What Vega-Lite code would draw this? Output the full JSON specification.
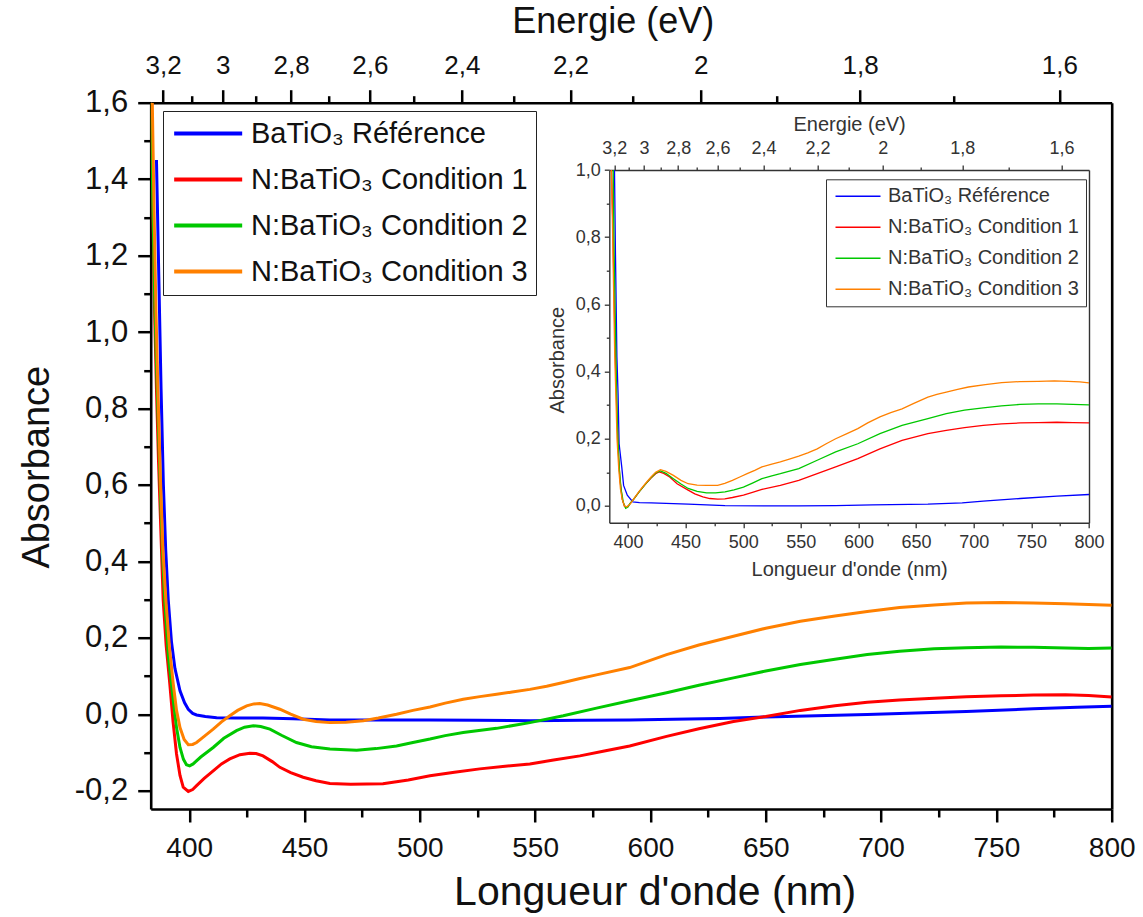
{
  "$schema": "https://vega.github.io/schema/vega-lite/v6.json",
  "autosize": {"type": "none"},
  "width": 961,
  "height": 706.3,
  "padding": {"left": 150.7, "top": 102.7, "right": 31.3, "bottom": 108},
  "background": "white",
  "config": {
    "font": "Liberation Sans",
    "view": {"stroke": null},
    "axis": {"grid": false, "labelFlush": false, "labelOverlap": false, "labelBound": false, "titleFontWeight": "normal", "zindex": 1}
  },
  "datasets": {
    "main": [
      {"series": "BaTiO₃ Référence", "wl": 385.8, "abs": 1.45},
      {"series": "BaTiO₃ Référence", "wl": 386.8, "abs": 1.15},
      {"series": "BaTiO₃ Référence", "wl": 387.8, "abs": 0.85},
      {"series": "BaTiO₃ Référence", "wl": 388.8, "abs": 0.6},
      {"series": "BaTiO₃ Référence", "wl": 389.8, "abs": 0.43},
      {"series": "BaTiO₃ Référence", "wl": 390.9, "abs": 0.3},
      {"series": "BaTiO₃ Référence", "wl": 392.3, "abs": 0.19},
      {"series": "BaTiO₃ Référence", "wl": 393.8, "abs": 0.12},
      {"series": "BaTiO₃ Référence", "wl": 396, "abs": 0.061},
      {"series": "BaTiO₃ Référence", "wl": 398, "abs": 0.03},
      {"series": "BaTiO₃ Référence", "wl": 399.6, "abs": 0.013},
      {"series": "BaTiO₃ Référence", "wl": 401.5, "abs": 0.002},
      {"series": "BaTiO₃ Référence", "wl": 403.2, "abs": -0.002},
      {"series": "BaTiO₃ Référence", "wl": 407, "abs": -0.006},
      {"series": "BaTiO₃ Référence", "wl": 411.9, "abs": -0.009},
      {"series": "BaTiO₃ Référence", "wl": 420, "abs": -0.01},
      {"series": "BaTiO₃ Référence", "wl": 432, "abs": -0.01},
      {"series": "BaTiO₃ Référence", "wl": 445, "abs": -0.012},
      {"series": "BaTiO₃ Référence", "wl": 461, "abs": -0.015},
      {"series": "BaTiO₃ Référence", "wl": 480, "abs": -0.015},
      {"series": "BaTiO₃ Référence", "wl": 504, "abs": -0.015},
      {"series": "BaTiO₃ Référence", "wl": 525, "abs": -0.016},
      {"series": "BaTiO₃ Référence", "wl": 548, "abs": -0.017},
      {"series": "BaTiO₃ Référence", "wl": 570, "abs": -0.016},
      {"series": "BaTiO₃ Référence", "wl": 591, "abs": -0.015},
      {"series": "BaTiO₃ Référence", "wl": 610, "abs": -0.013},
      {"series": "BaTiO₃ Référence", "wl": 630, "abs": -0.011},
      {"series": "BaTiO₃ Référence", "wl": 650, "abs": -0.007},
      {"series": "BaTiO₃ Référence", "wl": 672, "abs": -0.004},
      {"series": "BaTiO₃ Référence", "wl": 694, "abs": -0.001},
      {"series": "BaTiO₃ Référence", "wl": 715, "abs": 0.003},
      {"series": "BaTiO₃ Référence", "wl": 737, "abs": 0.007},
      {"series": "BaTiO₃ Référence", "wl": 766, "abs": 0.014},
      {"series": "BaTiO₃ Référence", "wl": 785, "abs": 0.018},
      {"series": "BaTiO₃ Référence", "wl": 800, "abs": 0.021},

      {"series": "N:BaTiO₃ Condition 1", "wl": 383.6, "abs": 1.6},
      {"series": "N:BaTiO₃ Condition 1", "wl": 384.3, "abs": 1.3},
      {"series": "N:BaTiO₃ Condition 1", "wl": 385, "abs": 1.05},
      {"series": "N:BaTiO₃ Condition 1", "wl": 385.8, "abs": 0.85},
      {"series": "N:BaTiO₃ Condition 1", "wl": 386.7, "abs": 0.66},
      {"series": "N:BaTiO₃ Condition 1", "wl": 387.7, "abs": 0.48},
      {"series": "N:BaTiO₃ Condition 1", "wl": 388.7, "abs": 0.3},
      {"series": "N:BaTiO₃ Condition 1", "wl": 390, "abs": 0.18},
      {"series": "N:BaTiO₃ Condition 1", "wl": 391.6, "abs": 0.078},
      {"series": "N:BaTiO₃ Condition 1", "wl": 393, "abs": -0.02},
      {"series": "N:BaTiO₃ Condition 1", "wl": 394.5, "abs": -0.104},
      {"series": "N:BaTiO₃ Condition 1", "wl": 396, "abs": -0.16},
      {"series": "N:BaTiO₃ Condition 1", "wl": 397.4, "abs": -0.191},
      {"series": "N:BaTiO₃ Condition 1", "wl": 399.6, "abs": -0.202},
      {"series": "N:BaTiO₃ Condition 1", "wl": 401.5, "abs": -0.197},
      {"series": "N:BaTiO₃ Condition 1", "wl": 403.2, "abs": -0.187},
      {"series": "N:BaTiO₃ Condition 1", "wl": 406.5, "abs": -0.168},
      {"series": "N:BaTiO₃ Condition 1", "wl": 410.4, "abs": -0.148},
      {"series": "N:BaTiO₃ Condition 1", "wl": 414, "abs": -0.13},
      {"series": "N:BaTiO₃ Condition 1", "wl": 417.6, "abs": -0.117},
      {"series": "N:BaTiO₃ Condition 1", "wl": 422, "abs": -0.106},
      {"series": "N:BaTiO₃ Condition 1", "wl": 426.3, "abs": -0.102},
      {"series": "N:BaTiO₃ Condition 1", "wl": 429, "abs": -0.103},
      {"series": "N:BaTiO₃ Condition 1", "wl": 432, "abs": -0.109},
      {"series": "N:BaTiO₃ Condition 1", "wl": 436, "abs": -0.124},
      {"series": "N:BaTiO₃ Condition 1", "wl": 439.3, "abs": -0.139},
      {"series": "N:BaTiO₃ Condition 1", "wl": 444, "abs": -0.153},
      {"series": "N:BaTiO₃ Condition 1", "wl": 449.4, "abs": -0.165},
      {"series": "N:BaTiO₃ Condition 1", "wl": 455, "abs": -0.174},
      {"series": "N:BaTiO₃ Condition 1", "wl": 461, "abs": -0.181},
      {"series": "N:BaTiO₃ Condition 1", "wl": 470, "abs": -0.183},
      {"series": "N:BaTiO₃ Condition 1", "wl": 484, "abs": -0.182},
      {"series": "N:BaTiO₃ Condition 1", "wl": 495, "abs": -0.172},
      {"series": "N:BaTiO₃ Condition 1", "wl": 504.4, "abs": -0.161},
      {"series": "N:BaTiO₃ Condition 1", "wl": 515, "abs": -0.152},
      {"series": "N:BaTiO₃ Condition 1", "wl": 526, "abs": -0.143},
      {"series": "N:BaTiO₃ Condition 1", "wl": 537, "abs": -0.136},
      {"series": "N:BaTiO₃ Condition 1", "wl": 547.7, "abs": -0.13},
      {"series": "N:BaTiO₃ Condition 1", "wl": 558, "abs": -0.12},
      {"series": "N:BaTiO₃ Condition 1", "wl": 569.4, "abs": -0.109},
      {"series": "N:BaTiO₃ Condition 1", "wl": 580, "abs": -0.096},
      {"series": "N:BaTiO₃ Condition 1", "wl": 591, "abs": -0.083},
      {"series": "N:BaTiO₃ Condition 1", "wl": 607, "abs": -0.058},
      {"series": "N:BaTiO₃ Condition 1", "wl": 621, "abs": -0.038},
      {"series": "N:BaTiO₃ Condition 1", "wl": 636, "abs": -0.019},
      {"series": "N:BaTiO₃ Condition 1", "wl": 650, "abs": -0.006},
      {"series": "N:BaTiO₃ Condition 1", "wl": 665, "abs": 0.01},
      {"series": "N:BaTiO₃ Condition 1", "wl": 680, "abs": 0.022},
      {"series": "N:BaTiO₃ Condition 1", "wl": 694, "abs": 0.031},
      {"series": "N:BaTiO₃ Condition 1", "wl": 708, "abs": 0.037},
      {"series": "N:BaTiO₃ Condition 1", "wl": 723, "abs": 0.042},
      {"series": "N:BaTiO₃ Condition 1", "wl": 737, "abs": 0.046},
      {"series": "N:BaTiO₃ Condition 1", "wl": 752, "abs": 0.048},
      {"series": "N:BaTiO₃ Condition 1", "wl": 766, "abs": 0.05},
      {"series": "N:BaTiO₃ Condition 1", "wl": 780, "abs": 0.051},
      {"series": "N:BaTiO₃ Condition 1", "wl": 790, "abs": 0.049},
      {"series": "N:BaTiO₃ Condition 1", "wl": 800, "abs": 0.045},

      {"series": "N:BaTiO₃ Condition 2", "wl": 383.5, "abs": 1.6},
      {"series": "N:BaTiO₃ Condition 2", "wl": 384.2, "abs": 1.35},
      {"series": "N:BaTiO₃ Condition 2", "wl": 385, "abs": 1.1},
      {"series": "N:BaTiO₃ Condition 2", "wl": 385.8, "abs": 0.92},
      {"series": "N:BaTiO₃ Condition 2", "wl": 386.8, "abs": 0.72},
      {"series": "N:BaTiO₃ Condition 2", "wl": 387.8, "abs": 0.53},
      {"series": "N:BaTiO₃ Condition 2", "wl": 388.6, "abs": 0.4},
      {"series": "N:BaTiO₃ Condition 2", "wl": 389.4, "abs": 0.296},
      {"series": "N:BaTiO₃ Condition 2", "wl": 391, "abs": 0.15},
      {"series": "N:BaTiO₃ Condition 2", "wl": 393.1, "abs": 0.035},
      {"series": "N:BaTiO₃ Condition 2", "wl": 394.5, "abs": -0.035},
      {"series": "N:BaTiO₃ Condition 2", "wl": 396, "abs": -0.087},
      {"series": "N:BaTiO₃ Condition 2", "wl": 397.5, "abs": -0.118},
      {"series": "N:BaTiO₃ Condition 2", "wl": 398.8, "abs": -0.132},
      {"series": "N:BaTiO₃ Condition 2", "wl": 400.2, "abs": -0.135},
      {"series": "N:BaTiO₃ Condition 2", "wl": 401.7, "abs": -0.13},
      {"series": "N:BaTiO₃ Condition 2", "wl": 405, "abs": -0.112},
      {"series": "N:BaTiO₃ Condition 2", "wl": 410.4, "abs": -0.087},
      {"series": "N:BaTiO₃ Condition 2", "wl": 415, "abs": -0.063},
      {"series": "N:BaTiO₃ Condition 2", "wl": 420.5, "abs": -0.043},
      {"series": "N:BaTiO₃ Condition 2", "wl": 424, "abs": -0.034},
      {"series": "N:BaTiO₃ Condition 2", "wl": 427.8, "abs": -0.03},
      {"series": "N:BaTiO₃ Condition 2", "wl": 431, "abs": -0.032},
      {"series": "N:BaTiO₃ Condition 2", "wl": 435, "abs": -0.039},
      {"series": "N:BaTiO₃ Condition 2", "wl": 440, "abs": -0.055},
      {"series": "N:BaTiO₃ Condition 2", "wl": 446.5, "abs": -0.074},
      {"series": "N:BaTiO₃ Condition 2", "wl": 453, "abs": -0.085},
      {"series": "N:BaTiO₃ Condition 2", "wl": 461, "abs": -0.091},
      {"series": "N:BaTiO₃ Condition 2", "wl": 472.6, "abs": -0.094},
      {"series": "N:BaTiO₃ Condition 2", "wl": 481, "abs": -0.09},
      {"series": "N:BaTiO₃ Condition 2", "wl": 489.9, "abs": -0.083},
      {"series": "N:BaTiO₃ Condition 2", "wl": 497, "abs": -0.074},
      {"series": "N:BaTiO₃ Condition 2", "wl": 504.4, "abs": -0.065},
      {"series": "N:BaTiO₃ Condition 2", "wl": 511, "abs": -0.056},
      {"series": "N:BaTiO₃ Condition 2", "wl": 518.8, "abs": -0.048},
      {"series": "N:BaTiO₃ Condition 2", "wl": 533.3, "abs": -0.037},
      {"series": "N:BaTiO₃ Condition 2", "wl": 547.7, "abs": -0.022},
      {"series": "N:BaTiO₃ Condition 2", "wl": 562.2, "abs": -0.004},
      {"series": "N:BaTiO₃ Condition 2", "wl": 576.6, "abs": 0.016},
      {"series": "N:BaTiO₃ Condition 2", "wl": 591, "abs": 0.035},
      {"series": "N:BaTiO₃ Condition 2", "wl": 607, "abs": 0.056},
      {"series": "N:BaTiO₃ Condition 2", "wl": 621, "abs": 0.076},
      {"series": "N:BaTiO₃ Condition 2", "wl": 636, "abs": 0.095},
      {"series": "N:BaTiO₃ Condition 2", "wl": 650, "abs": 0.113},
      {"series": "N:BaTiO₃ Condition 2", "wl": 665, "abs": 0.13},
      {"series": "N:BaTiO₃ Condition 2", "wl": 680, "abs": 0.144},
      {"series": "N:BaTiO₃ Condition 2", "wl": 694, "abs": 0.156},
      {"series": "N:BaTiO₃ Condition 2", "wl": 708, "abs": 0.165},
      {"series": "N:BaTiO₃ Condition 2", "wl": 723, "abs": 0.171},
      {"series": "N:BaTiO₃ Condition 2", "wl": 737, "abs": 0.174},
      {"series": "N:BaTiO₃ Condition 2", "wl": 752, "abs": 0.176},
      {"series": "N:BaTiO₃ Condition 2", "wl": 766, "abs": 0.175},
      {"series": "N:BaTiO₃ Condition 2", "wl": 780, "abs": 0.173},
      {"series": "N:BaTiO₃ Condition 2", "wl": 790, "abs": 0.172},
      {"series": "N:BaTiO₃ Condition 2", "wl": 800, "abs": 0.173},

      {"series": "N:BaTiO₃ Condition 3", "wl": 384, "abs": 1.6},
      {"series": "N:BaTiO₃ Condition 3", "wl": 384.8, "abs": 1.3},
      {"series": "N:BaTiO₃ Condition 3", "wl": 385.6, "abs": 1.05},
      {"series": "N:BaTiO₃ Condition 3", "wl": 386.5, "abs": 0.83},
      {"series": "N:BaTiO₃ Condition 3", "wl": 387.5, "abs": 0.62},
      {"series": "N:BaTiO₃ Condition 3", "wl": 388.6, "abs": 0.43},
      {"series": "N:BaTiO₃ Condition 3", "wl": 389.9, "abs": 0.296},
      {"series": "N:BaTiO₃ Condition 3", "wl": 391.5, "abs": 0.17},
      {"series": "N:BaTiO₃ Condition 3", "wl": 393.1, "abs": 0.078},
      {"series": "N:BaTiO₃ Condition 3", "wl": 394.5, "abs": 0.01},
      {"series": "N:BaTiO₃ Condition 3", "wl": 396, "abs": -0.035},
      {"series": "N:BaTiO₃ Condition 3", "wl": 397.8, "abs": -0.066},
      {"series": "N:BaTiO₃ Condition 3", "wl": 399.6, "abs": -0.08},
      {"series": "N:BaTiO₃ Condition 3", "wl": 401.5, "abs": -0.079},
      {"series": "N:BaTiO₃ Condition 3", "wl": 403.2, "abs": -0.074},
      {"series": "N:BaTiO₃ Condition 3", "wl": 406.5, "abs": -0.058},
      {"series": "N:BaTiO₃ Condition 3", "wl": 410.4, "abs": -0.039},
      {"series": "N:BaTiO₃ Condition 3", "wl": 414, "abs": -0.02},
      {"series": "N:BaTiO₃ Condition 3", "wl": 417.6, "abs": -0.004},
      {"series": "N:BaTiO₃ Condition 3", "wl": 421, "abs": 0.01},
      {"series": "N:BaTiO₃ Condition 3", "wl": 424.9, "abs": 0.022},
      {"series": "N:BaTiO₃ Condition 3", "wl": 428, "abs": 0.027},
      {"series": "N:BaTiO₃ Condition 3", "wl": 430.6, "abs": 0.028},
      {"series": "N:BaTiO₃ Condition 3", "wl": 434, "abs": 0.024},
      {"series": "N:BaTiO₃ Condition 3", "wl": 439.3, "abs": 0.013},
      {"series": "N:BaTiO₃ Condition 3", "wl": 444, "abs": 0.0},
      {"series": "N:BaTiO₃ Condition 3", "wl": 449.4, "abs": -0.013},
      {"series": "N:BaTiO₃ Condition 3", "wl": 455, "abs": -0.019},
      {"series": "N:BaTiO₃ Condition 3", "wl": 461, "abs": -0.022},
      {"series": "N:BaTiO₃ Condition 3", "wl": 468, "abs": -0.021},
      {"series": "N:BaTiO₃ Condition 3", "wl": 475.5, "abs": -0.017},
      {"series": "N:BaTiO₃ Condition 3", "wl": 482, "abs": -0.01},
      {"series": "N:BaTiO₃ Condition 3", "wl": 489.9, "abs": 0.0},
      {"series": "N:BaTiO₃ Condition 3", "wl": 497, "abs": 0.01},
      {"series": "N:BaTiO₃ Condition 3", "wl": 504.4, "abs": 0.019},
      {"series": "N:BaTiO₃ Condition 3", "wl": 511, "abs": 0.029},
      {"series": "N:BaTiO₃ Condition 3", "wl": 518.8, "abs": 0.039},
      {"series": "N:BaTiO₃ Condition 3", "wl": 526, "abs": 0.046},
      {"series": "N:BaTiO₃ Condition 3", "wl": 533.3, "abs": 0.052},
      {"series": "N:BaTiO₃ Condition 3", "wl": 540, "abs": 0.058},
      {"series": "N:BaTiO₃ Condition 3", "wl": 547.7, "abs": 0.065},
      {"series": "N:BaTiO₃ Condition 3", "wl": 555, "abs": 0.073},
      {"series": "N:BaTiO₃ Condition 3", "wl": 562.2, "abs": 0.083},
      {"series": "N:BaTiO₃ Condition 3", "wl": 569, "abs": 0.093},
      {"series": "N:BaTiO₃ Condition 3", "wl": 576.6, "abs": 0.103},
      {"series": "N:BaTiO₃ Condition 3", "wl": 591, "abs": 0.122},
      {"series": "N:BaTiO₃ Condition 3", "wl": 607, "abs": 0.156},
      {"series": "N:BaTiO₃ Condition 3", "wl": 621, "abs": 0.181},
      {"series": "N:BaTiO₃ Condition 3", "wl": 636, "abs": 0.204},
      {"series": "N:BaTiO₃ Condition 3", "wl": 650, "abs": 0.225},
      {"series": "N:BaTiO₃ Condition 3", "wl": 665, "abs": 0.243},
      {"series": "N:BaTiO₃ Condition 3", "wl": 680, "abs": 0.257},
      {"series": "N:BaTiO₃ Condition 3", "wl": 694, "abs": 0.269},
      {"series": "N:BaTiO₃ Condition 3", "wl": 708, "abs": 0.279},
      {"series": "N:BaTiO₃ Condition 3", "wl": 723, "abs": 0.286},
      {"series": "N:BaTiO₃ Condition 3", "wl": 737, "abs": 0.291},
      {"series": "N:BaTiO₃ Condition 3", "wl": 752, "abs": 0.292},
      {"series": "N:BaTiO₃ Condition 3", "wl": 766, "abs": 0.291},
      {"series": "N:BaTiO₃ Condition 3", "wl": 780, "abs": 0.289},
      {"series": "N:BaTiO₃ Condition 3", "wl": 790, "abs": 0.287},
      {"series": "N:BaTiO₃ Condition 3", "wl": 800, "abs": 0.285}
    ],
    "inset": [
      {"series": "BaTiO₃ Référence", "wl": 388.3, "abs": 1.0},
      {"series": "BaTiO₃ Référence", "wl": 389.1, "abs": 0.76},
      {"series": "BaTiO₃ Référence", "wl": 390.4, "abs": 0.443},
      {"series": "BaTiO₃ Référence", "wl": 391.4, "abs": 0.334},
      {"series": "BaTiO₃ Référence", "wl": 392.3, "abs": 0.185},
      {"series": "BaTiO₃ Référence", "wl": 394.6, "abs": 0.116},
      {"series": "BaTiO₃ Référence", "wl": 396.2, "abs": 0.061},
      {"series": "BaTiO₃ Référence", "wl": 399.4, "abs": 0.032},
      {"series": "BaTiO₃ Référence", "wl": 404.2, "abs": 0.012},
      {"series": "BaTiO₃ Référence", "wl": 410, "abs": 0.01},
      {"series": "BaTiO₃ Référence", "wl": 420.2, "abs": 0.009},
      {"series": "BaTiO₃ Référence", "wl": 452.2, "abs": 0.005},
      {"series": "BaTiO₃ Référence", "wl": 484.2, "abs": 0.001},
      {"series": "BaTiO₃ Référence", "wl": 520, "abs": 0.0},
      {"series": "BaTiO₃ Référence", "wl": 548.2, "abs": 0.0},
      {"series": "BaTiO₃ Référence", "wl": 580, "abs": 0.001},
      {"series": "BaTiO₃ Référence", "wl": 612.2, "abs": 0.003},
      {"series": "BaTiO₃ Référence", "wl": 660.2, "abs": 0.005},
      {"series": "BaTiO₃ Référence", "wl": 690, "abs": 0.009},
      {"series": "BaTiO₃ Référence", "wl": 708.2, "abs": 0.014},
      {"series": "BaTiO₃ Référence", "wl": 740.2, "abs": 0.022},
      {"series": "BaTiO₃ Référence", "wl": 772.2, "abs": 0.029},
      {"series": "BaTiO₃ Référence", "wl": 800, "abs": 0.034},

      {"series": "N:BaTiO₃ Condition 1", "wl": 385.8, "abs": 1.0},
      {"series": "N:BaTiO₃ Condition 1", "wl": 386.8, "abs": 0.85},
      {"series": "N:BaTiO₃ Condition 1", "wl": 388, "abs": 0.62},
      {"series": "N:BaTiO₃ Condition 1", "wl": 389.2, "abs": 0.42},
      {"series": "N:BaTiO₃ Condition 1", "wl": 390.3, "abs": 0.28},
      {"series": "N:BaTiO₃ Condition 1", "wl": 391.5, "abs": 0.17},
      {"series": "N:BaTiO₃ Condition 1", "wl": 393, "abs": 0.08},
      {"series": "N:BaTiO₃ Condition 1", "wl": 395, "abs": 0.02},
      {"series": "N:BaTiO₃ Condition 1", "wl": 397, "abs": -0.002},
      {"series": "N:BaTiO₃ Condition 1", "wl": 399, "abs": -0.004},
      {"series": "N:BaTiO₃ Condition 1", "wl": 401, "abs": 0.003},
      {"series": "N:BaTiO₃ Condition 1", "wl": 405, "abs": 0.02},
      {"series": "N:BaTiO₃ Condition 1", "wl": 410, "abs": 0.043},
      {"series": "N:BaTiO₃ Condition 1", "wl": 415, "abs": 0.064},
      {"series": "N:BaTiO₃ Condition 1", "wl": 420, "abs": 0.083},
      {"series": "N:BaTiO₃ Condition 1", "wl": 424, "abs": 0.096},
      {"series": "N:BaTiO₃ Condition 1", "wl": 427, "abs": 0.101},
      {"series": "N:BaTiO₃ Condition 1", "wl": 431, "abs": 0.097},
      {"series": "N:BaTiO₃ Condition 1", "wl": 436.2, "abs": 0.086},
      {"series": "N:BaTiO₃ Condition 1", "wl": 442.6, "abs": 0.066},
      {"series": "N:BaTiO₃ Condition 1", "wl": 452.2, "abs": 0.047},
      {"series": "N:BaTiO₃ Condition 1", "wl": 458, "abs": 0.036},
      {"series": "N:BaTiO₃ Condition 1", "wl": 465, "abs": 0.027},
      {"series": "N:BaTiO₃ Condition 1", "wl": 471, "abs": 0.022},
      {"series": "N:BaTiO₃ Condition 1", "wl": 477.8, "abs": 0.02},
      {"series": "N:BaTiO₃ Condition 1", "wl": 484, "abs": 0.021},
      {"series": "N:BaTiO₃ Condition 1", "wl": 490.6, "abs": 0.025},
      {"series": "N:BaTiO₃ Condition 1", "wl": 500.2, "abs": 0.032},
      {"series": "N:BaTiO₃ Condition 1", "wl": 508, "abs": 0.04},
      {"series": "N:BaTiO₃ Condition 1", "wl": 516.2, "abs": 0.049},
      {"series": "N:BaTiO₃ Condition 1", "wl": 532.2, "abs": 0.061},
      {"series": "N:BaTiO₃ Condition 1", "wl": 548.2, "abs": 0.076},
      {"series": "N:BaTiO₃ Condition 1", "wl": 564.2, "abs": 0.096},
      {"series": "N:BaTiO₃ Condition 1", "wl": 580.2, "abs": 0.116},
      {"series": "N:BaTiO₃ Condition 1", "wl": 599.4, "abs": 0.141},
      {"series": "N:BaTiO₃ Condition 1", "wl": 618.6, "abs": 0.17},
      {"series": "N:BaTiO₃ Condition 1", "wl": 637.8, "abs": 0.195},
      {"series": "N:BaTiO₃ Condition 1", "wl": 660.2, "abs": 0.215},
      {"series": "N:BaTiO₃ Condition 1", "wl": 676.2, "abs": 0.225},
      {"series": "N:BaTiO₃ Condition 1", "wl": 692, "abs": 0.233},
      {"series": "N:BaTiO₃ Condition 1", "wl": 708.2, "abs": 0.24},
      {"series": "N:BaTiO₃ Condition 1", "wl": 724, "abs": 0.244},
      {"series": "N:BaTiO₃ Condition 1", "wl": 740.2, "abs": 0.247},
      {"series": "N:BaTiO₃ Condition 1", "wl": 756, "abs": 0.248},
      {"series": "N:BaTiO₃ Condition 1", "wl": 772.2, "abs": 0.249},
      {"series": "N:BaTiO₃ Condition 1", "wl": 786, "abs": 0.248},
      {"series": "N:BaTiO₃ Condition 1", "wl": 800, "abs": 0.247},

      {"series": "N:BaTiO₃ Condition 2", "wl": 387.2, "abs": 1.0},
      {"series": "N:BaTiO₃ Condition 2", "wl": 387.8, "abs": 0.8},
      {"series": "N:BaTiO₃ Condition 2", "wl": 388.5, "abs": 0.65},
      {"series": "N:BaTiO₃ Condition 2", "wl": 389.3, "abs": 0.5},
      {"series": "N:BaTiO₃ Condition 2", "wl": 390, "abs": 0.36},
      {"series": "N:BaTiO₃ Condition 2", "wl": 391, "abs": 0.22},
      {"series": "N:BaTiO₃ Condition 2", "wl": 392.5, "abs": 0.11},
      {"series": "N:BaTiO₃ Condition 2", "wl": 394, "abs": 0.05},
      {"series": "N:BaTiO₃ Condition 2", "wl": 396, "abs": 0.01},
      {"series": "N:BaTiO₃ Condition 2", "wl": 398, "abs": -0.007},
      {"series": "N:BaTiO₃ Condition 2", "wl": 400, "abs": -0.003},
      {"series": "N:BaTiO₃ Condition 2", "wl": 402, "abs": 0.008},
      {"series": "N:BaTiO₃ Condition 2", "wl": 405, "abs": 0.02},
      {"series": "N:BaTiO₃ Condition 2", "wl": 410, "abs": 0.043},
      {"series": "N:BaTiO₃ Condition 2", "wl": 415, "abs": 0.064},
      {"series": "N:BaTiO₃ Condition 2", "wl": 420, "abs": 0.084},
      {"series": "N:BaTiO₃ Condition 2", "wl": 424, "abs": 0.098},
      {"series": "N:BaTiO₃ Condition 2", "wl": 428.2, "abs": 0.104},
      {"series": "N:BaTiO₃ Condition 2", "wl": 433, "abs": 0.097},
      {"series": "N:BaTiO₃ Condition 2", "wl": 439.4, "abs": 0.081},
      {"series": "N:BaTiO₃ Condition 2", "wl": 446, "abs": 0.065},
      {"series": "N:BaTiO₃ Condition 2", "wl": 452.2, "abs": 0.052},
      {"series": "N:BaTiO₃ Condition 2", "wl": 460, "abs": 0.043},
      {"series": "N:BaTiO₃ Condition 2", "wl": 468.2, "abs": 0.039},
      {"series": "N:BaTiO₃ Condition 2", "wl": 476, "abs": 0.039},
      {"series": "N:BaTiO₃ Condition 2", "wl": 484.2, "abs": 0.042},
      {"series": "N:BaTiO₃ Condition 2", "wl": 492, "abs": 0.048},
      {"series": "N:BaTiO₃ Condition 2", "wl": 500.2, "abs": 0.056},
      {"series": "N:BaTiO₃ Condition 2", "wl": 508, "abs": 0.068},
      {"series": "N:BaTiO₃ Condition 2", "wl": 516.2, "abs": 0.081},
      {"series": "N:BaTiO₃ Condition 2", "wl": 524, "abs": 0.089},
      {"series": "N:BaTiO₃ Condition 2", "wl": 532.2, "abs": 0.096},
      {"series": "N:BaTiO₃ Condition 2", "wl": 548.2, "abs": 0.111},
      {"series": "N:BaTiO₃ Condition 2", "wl": 564.2, "abs": 0.136},
      {"series": "N:BaTiO₃ Condition 2", "wl": 580.2, "abs": 0.161},
      {"series": "N:BaTiO₃ Condition 2", "wl": 599.4, "abs": 0.185},
      {"series": "N:BaTiO₃ Condition 2", "wl": 618.6, "abs": 0.215},
      {"series": "N:BaTiO₃ Condition 2", "wl": 637.8, "abs": 0.24},
      {"series": "N:BaTiO₃ Condition 2", "wl": 660.2, "abs": 0.26},
      {"series": "N:BaTiO₃ Condition 2", "wl": 676.2, "abs": 0.275},
      {"series": "N:BaTiO₃ Condition 2", "wl": 692, "abs": 0.285},
      {"series": "N:BaTiO₃ Condition 2", "wl": 708.2, "abs": 0.292},
      {"series": "N:BaTiO₃ Condition 2", "wl": 724, "abs": 0.298},
      {"series": "N:BaTiO₃ Condition 2", "wl": 740.2, "abs": 0.302},
      {"series": "N:BaTiO₃ Condition 2", "wl": 756, "abs": 0.304},
      {"series": "N:BaTiO₃ Condition 2", "wl": 772.2, "abs": 0.304},
      {"series": "N:BaTiO₃ Condition 2", "wl": 786, "abs": 0.302},
      {"series": "N:BaTiO₃ Condition 2", "wl": 800, "abs": 0.301},

      {"series": "N:BaTiO₃ Condition 3", "wl": 385.5, "abs": 1.0},
      {"series": "N:BaTiO₃ Condition 3", "wl": 386.5, "abs": 0.85},
      {"series": "N:BaTiO₃ Condition 3", "wl": 387.5, "abs": 0.65},
      {"series": "N:BaTiO₃ Condition 3", "wl": 388.5, "abs": 0.45},
      {"series": "N:BaTiO₃ Condition 3", "wl": 389.5, "abs": 0.33},
      {"series": "N:BaTiO₃ Condition 3", "wl": 390.5, "abs": 0.2},
      {"series": "N:BaTiO₃ Condition 3", "wl": 392, "abs": 0.11},
      {"series": "N:BaTiO₃ Condition 3", "wl": 393.5, "abs": 0.05},
      {"series": "N:BaTiO₃ Condition 3", "wl": 395, "abs": 0.02},
      {"series": "N:BaTiO₃ Condition 3", "wl": 397, "abs": 0.0},
      {"series": "N:BaTiO₃ Condition 3", "wl": 399, "abs": -0.003},
      {"series": "N:BaTiO₃ Condition 3", "wl": 402, "abs": 0.006},
      {"series": "N:BaTiO₃ Condition 3", "wl": 405, "abs": 0.021},
      {"series": "N:BaTiO₃ Condition 3", "wl": 410, "abs": 0.045},
      {"series": "N:BaTiO₃ Condition 3", "wl": 415, "abs": 0.066},
      {"series": "N:BaTiO₃ Condition 3", "wl": 420, "abs": 0.086},
      {"series": "N:BaTiO₃ Condition 3", "wl": 424, "abs": 0.1},
      {"series": "N:BaTiO₃ Condition 3", "wl": 428.2, "abs": 0.108},
      {"series": "N:BaTiO₃ Condition 3", "wl": 433, "abs": 0.103},
      {"series": "N:BaTiO₃ Condition 3", "wl": 439.4, "abs": 0.091},
      {"series": "N:BaTiO₃ Condition 3", "wl": 446, "abs": 0.076},
      {"series": "N:BaTiO₃ Condition 3", "wl": 452.2, "abs": 0.066},
      {"series": "N:BaTiO₃ Condition 3", "wl": 460, "abs": 0.062},
      {"series": "N:BaTiO₃ Condition 3", "wl": 468.2, "abs": 0.061},
      {"series": "N:BaTiO₃ Condition 3", "wl": 477.8, "abs": 0.061},
      {"series": "N:BaTiO₃ Condition 3", "wl": 484, "abs": 0.067},
      {"series": "N:BaTiO₃ Condition 3", "wl": 490.6, "abs": 0.076},
      {"series": "N:BaTiO₃ Condition 3", "wl": 497, "abs": 0.086},
      {"series": "N:BaTiO₃ Condition 3", "wl": 503.4, "abs": 0.096},
      {"series": "N:BaTiO₃ Condition 3", "wl": 510, "abs": 0.106},
      {"series": "N:BaTiO₃ Condition 3", "wl": 516.2, "abs": 0.116},
      {"series": "N:BaTiO₃ Condition 3", "wl": 524, "abs": 0.124},
      {"series": "N:BaTiO₃ Condition 3", "wl": 532.2, "abs": 0.131},
      {"series": "N:BaTiO₃ Condition 3", "wl": 540, "abs": 0.139},
      {"series": "N:BaTiO₃ Condition 3", "wl": 548.2, "abs": 0.148},
      {"series": "N:BaTiO₃ Condition 3", "wl": 556, "abs": 0.158},
      {"series": "N:BaTiO₃ Condition 3", "wl": 564.2, "abs": 0.17},
      {"series": "N:BaTiO₃ Condition 3", "wl": 572, "abs": 0.185},
      {"series": "N:BaTiO₃ Condition 3", "wl": 580.2, "abs": 0.2},
      {"series": "N:BaTiO₃ Condition 3", "wl": 590, "abs": 0.215},
      {"series": "N:BaTiO₃ Condition 3", "wl": 599.4, "abs": 0.23},
      {"series": "N:BaTiO₃ Condition 3", "wl": 608, "abs": 0.247},
      {"series": "N:BaTiO₃ Condition 3", "wl": 618.6, "abs": 0.265},
      {"series": "N:BaTiO₃ Condition 3", "wl": 628, "abs": 0.278},
      {"series": "N:BaTiO₃ Condition 3", "wl": 637.8, "abs": 0.289},
      {"series": "N:BaTiO₃ Condition 3", "wl": 648, "abs": 0.305},
      {"series": "N:BaTiO₃ Condition 3", "wl": 660.2, "abs": 0.324},
      {"series": "N:BaTiO₃ Condition 3", "wl": 668, "abs": 0.332},
      {"series": "N:BaTiO₃ Condition 3", "wl": 676.2, "abs": 0.339},
      {"series": "N:BaTiO₃ Condition 3", "wl": 686, "abs": 0.347},
      {"series": "N:BaTiO₃ Condition 3", "wl": 695.4, "abs": 0.354},
      {"series": "N:BaTiO₃ Condition 3", "wl": 710, "abs": 0.361},
      {"series": "N:BaTiO₃ Condition 3", "wl": 724.2, "abs": 0.367},
      {"series": "N:BaTiO₃ Condition 3", "wl": 740, "abs": 0.37},
      {"series": "N:BaTiO₃ Condition 3", "wl": 756.2, "abs": 0.371},
      {"series": "N:BaTiO₃ Condition 3", "wl": 770, "abs": 0.372},
      {"series": "N:BaTiO₃ Condition 3", "wl": 781.8, "abs": 0.371},
      {"series": "N:BaTiO₃ Condition 3", "wl": 792, "abs": 0.369},
      {"series": "N:BaTiO₃ Condition 3", "wl": 800, "abs": 0.366}
    ]
  },
  "layer": [
    {
      "data": {"name": "main"},
      "mark": {"type": "line", "strokeWidth": 3, "clip": true},
      "encoding": {
        "x": {"field": "wl", "type": "quantitative",
          "scale": {"domain": [383.3, 800], "nice": false, "zero": false},
          "axis": {"orient": "bottom", "values": [400, 450, 500, 550, 600, 650, 700, 750, 800],
            "title": "Longueur d'onde (nm)", "titleFontSize": 41, "titleColor": "#111", "titlePadding": 10, "titleX": 504,
            "labelFontSize": 28, "labelColor": "#111", "labelPadding": 12,
            "tickSize": 13, "tickWidth": 2.5, "tickColor": "black", "domainWidth": 2.6, "domainColor": "black"}},
        "y": {"field": "abs", "type": "quantitative",
          "scale": {"domain": [-0.248, 1.6], "nice": false, "zero": false},
          "axis": {"orient": "left", "values": [-0.2, 0, 0.2, 0.4, 0.6, 0.8, 1.0, 1.2, 1.4, 1.6],
            "labelExpr": "(datum.value < 0 ? '-' : '') + replace(format(abs(datum.value), '.1f'), '.', ',')",
            "title": "Absorbance", "titleFontSize": 38, "titleColor": "#111", "titlePadding": 18, "titleY": 364,
            "labelFontSize": 31, "labelColor": "#111", "labelPadding": 10,
            "tickSize": 13, "tickWidth": 2.5, "tickColor": "black", "domainWidth": 2.6, "domainColor": "black"}},
        "color": {"field": "series", "type": "nominal",
          "scale": {"domain": ["BaTiO₃ Référence", "N:BaTiO₃ Condition 1", "N:BaTiO₃ Condition 2", "N:BaTiO₃ Condition 3"],
                    "range": ["#0000ff", "#ff0000", "#00c800", "#ff8000"]},
          "legend": {"orient": "none", "legendX": 12.3, "legendY": 8.3, "title": null,
            "symbolType": "M-1,0H5", "symbolSize": 514, "symbolStrokeWidth": 4,
            "labelFontSize": 29, "labelColor": "#111", "labelOffset": 51, "labelLimit": 1000,
            "rowPadding": 16, "padding": 8, "strokeColor": "#222", "fillColor": "white"}}
      }
    },
    {
      "data": {"name": "main"},
      "mark": {"type": "point", "opacity": 0},
      "encoding": {
        "x": {"field": "wl", "type": "quantitative",
          "scale": {"domain": [383.3, 800], "nice": false, "zero": false},
          "axis": {"orient": "bottom", "values": [425, 475, 525, 575, 625, 675, 725, 775],
            "labels": false, "domain": false, "title": null, "tickSize": 8, "tickWidth": 2.5, "tickColor": "black"}},
        "y": {"field": "abs", "type": "quantitative",
          "scale": {"domain": [-0.248, 1.6], "nice": false, "zero": false},
          "axis": {"orient": "left", "values": [-0.1, 0.1, 0.3, 0.5, 0.7, 0.9, 1.1, 1.3, 1.5],
            "labels": false, "domain": false, "title": null, "tickSize": 7, "tickWidth": 2.5, "tickColor": "black"}}
      }
    },
    {
      "data": {"name": "main"},
      "mark": {"type": "point", "opacity": 0},
      "encoding": {
        "x": {"field": "E", "type": "quantitative",
          "scale": {"type": "pow", "exponent": -1, "domain": [3.2447, 1.5546], "nice": false, "zero": false},
          "axis": {"orient": "top", "values": [3.2, 3.0, 2.8, 2.6, 2.4, 2.2, 2.0, 1.8, 1.6],
            "labelExpr": "replace(format(datum.value, '.1~f'), '.', ',')",
            "title": "Energie (eV)", "titleFontSize": 36, "titleColor": "#111", "titlePadding": 12, "titleX": 462,
            "labelFontSize": 26, "labelColor": "#111", "labelPadding": 11,
            "tickSize": 13, "tickWidth": 2.5, "tickColor": "black", "domainWidth": 2.6, "domainColor": "black"}},
        "y": {"field": "abs", "type": "quantitative",
          "scale": {"domain": [-0.248, 1.6], "nice": false, "zero": false},
          "axis": {"orient": "right", "ticks": false, "labels": false, "title": null, "domainWidth": 2.6, "domainColor": "black"}}
      }
    },
    {
      "data": {"name": "main"},
      "mark": {"type": "point", "opacity": 0},
      "encoding": {
        "x": {"field": "E", "type": "quantitative",
          "scale": {"type": "pow", "exponent": -1, "domain": [3.2447, 1.5546], "nice": false, "zero": false},
          "axis": {"orient": "top", "values": [3.1, 2.9, 2.7, 2.5, 2.3, 2.1, 1.9, 1.7],
            "labels": false, "domain": false, "title": null, "tickSize": 7, "tickWidth": 2.5, "tickColor": "black"}}
      }
    },
    {
      "mark": {"type": "rect", "fill": "white", "fillOpacity": 0, "stroke": "black", "strokeWidth": 2.6},
      "encoding": {
        "x": {"datum": 552.9, "type": "quantitative", "scale": {"domain": [383.3, 800], "nice": false, "zero": false}, "axis": null},
        "x2": {"datum": 797.6},
        "y": {"datum": 1.583, "type": "quantitative", "scale": {"domain": [-0.248, 1.6], "nice": false, "zero": false}, "axis": null},
        "y2": {"datum": 0.332}
      }
    },
    {
      "data": {"name": "inset"},
      "mark": {"type": "line", "strokeWidth": 1.3},
      "encoding": {
        "x": {"field": "wl", "type": "quantitative",
          "scale": {"domain": [383.8, 800], "range": [458.6, 938.3], "nice": false, "zero": false},
          "axis": {"orient": "bottom", "offset": -286.3, "values": [400, 450, 500, 550, 600, 650, 700, 750, 800],
            "title": "Longueur d'onde (nm)", "titleFontSize": 20, "titleColor": "#333", "titlePadding": 8,
            "labelFontSize": 18, "labelColor": "#333", "labelPadding": 6,
            "tickSize": 5, "tickWidth": 1.3, "tickColor": "#333", "domainWidth": 1.4, "domainColor": "#333"}},
        "y": {"field": "abs", "type": "quantitative",
          "scale": {"domain": [-0.05, 1.0], "range": [420, 67.3], "nice": false, "zero": false},
          "axis": {"orient": "left", "offset": -458.6, "values": [0, 0.2, 0.4, 0.6, 0.8, 1.0],
            "labelExpr": "(datum.value < 0 ? '-' : '') + replace(format(abs(datum.value), '.1f'), '.', ',')",
            "title": "Absorbance", "titleFontSize": 20, "titleColor": "#333", "titlePadding": 8, "titleY": 257,
            "labelFontSize": 18, "labelColor": "#333", "labelPadding": 4,
            "tickSize": 5, "tickWidth": 1.3, "tickColor": "#333", "domainWidth": 1.4, "domainColor": "#333"}},
        "color": {"field": "series", "type": "nominal",
          "scale": {"domain": ["BaTiO₃ Référence", "N:BaTiO₃ Condition 1", "N:BaTiO₃ Condition 2", "N:BaTiO₃ Condition 3"],
                    "range": ["#0000ff", "#ff0000", "#00c800", "#ff8000"]},
          "legend": {"orient": "none", "legendX": 675.3, "legendY": 76.6, "title": null,
            "symbolType": "M-1,0H5", "symbolSize": 225, "symbolStrokeWidth": 1.5,
            "labelFontSize": 20, "labelColor": "#333", "labelOffset": 35, "labelLimit": 1000,
            "rowPadding": 11, "padding": 7, "strokeColor": "#333", "fillColor": "white"}}
      }
    },
    {
      "data": {"name": "inset"},
      "mark": {"type": "point", "opacity": 0},
      "encoding": {
        "x": {"field": "wl", "type": "quantitative",
          "scale": {"domain": [383.8, 800], "range": [458.6, 938.3], "nice": false, "zero": false},
          "axis": {"orient": "bottom", "offset": -286.3, "values": [425, 475, 525, 575, 625, 675, 725, 775],
            "labels": false, "domain": false, "title": null, "tickSize": 3, "tickWidth": 1.3, "tickColor": "#333"}},
        "y": {"field": "abs", "type": "quantitative",
          "scale": {"domain": [-0.05, 1.0], "range": [420, 67.3], "nice": false, "zero": false},
          "axis": {"orient": "left", "offset": -458.6, "values": [0.1, 0.3, 0.5, 0.7, 0.9],
            "labels": false, "domain": false, "title": null, "tickSize": 3, "tickWidth": 1.3, "tickColor": "#333"}}
      }
    },
    {
      "data": {"name": "inset"},
      "mark": {"type": "point", "opacity": 0},
      "encoding": {
        "x": {"field": "E", "type": "quantitative",
          "scale": {"type": "pow", "exponent": -1, "domain": [3.2361, 1.5525], "range": [458.6, 938.3], "nice": false, "zero": false},
          "axis": {"orient": "top", "offset": -67.3, "values": [3.2, 3.0, 2.8, 2.6, 2.4, 2.2, 2.0, 1.8, 1.6],
            "labelExpr": "replace(format(datum.value, '.1~f'), '.', ',')",
            "title": "Energie (eV)", "titleFontSize": 20, "titleColor": "#333", "titlePadding": 5,
            "labelFontSize": 18, "labelColor": "#333", "labelPadding": 8,
            "tickSize": 5, "tickWidth": 1.3, "tickColor": "#333", "domainWidth": 1.4, "domainColor": "#333"}},
        "y": {"field": "abs", "type": "quantitative",
          "scale": {"domain": [-0.05, 1.0], "range": [420, 67.3], "nice": false, "zero": false},
          "axis": {"orient": "right", "offset": -22.7, "ticks": false, "labels": false, "title": null, "domainWidth": 1.4, "domainColor": "#333"}}
      }
    },
    {
      "data": {"name": "inset"},
      "mark": {"type": "point", "opacity": 0},
      "encoding": {
        "x": {"field": "E", "type": "quantitative",
          "scale": {"type": "pow", "exponent": -1, "domain": [3.2361, 1.5525], "range": [458.6, 938.3], "nice": false, "zero": false},
          "axis": {"orient": "top", "offset": -67.3, "values": [3.1, 2.9, 2.7, 2.5, 2.3, 2.1, 1.9, 1.7],
            "labels": false, "domain": false, "title": null, "tickSize": 3, "tickWidth": 1.3, "tickColor": "#333"}}
      }
    }
  ],
  "resolve": {
    "scale": {"x": "independent", "y": "independent", "color": "independent"},
    "axis": {"x": "independent", "y": "independent"},
    "legend": {"color": "independent"}
  }
}
